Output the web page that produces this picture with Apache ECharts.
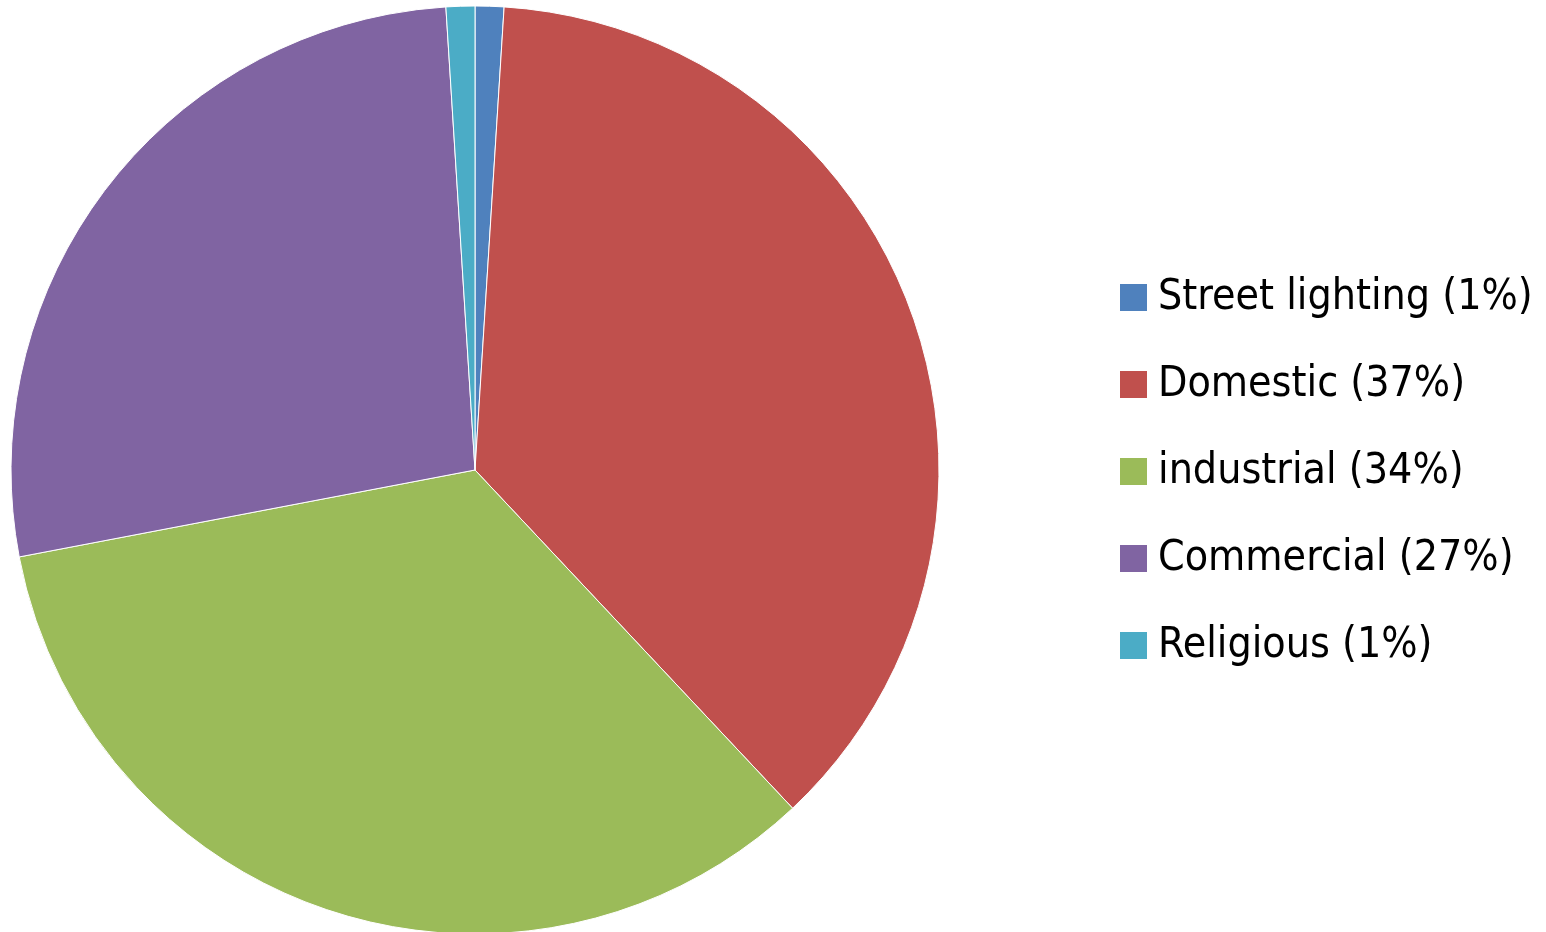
<!DOCTYPE html>
<html>
<head>
<meta charset="utf-8">
<script src="https://cdn.jsdelivr.net/npm/echarts@6/dist/echarts.min.js"></script>
<style>
  html, body { margin: 0; padding: 0; background: #fff; }
  #chart { width: 1546px; height: 932px; }
</style>
</head>
<body>
<div id="chart"></div>
<script>
// categories and shares (%)
var categories = ['Street lighting', 'Domestic', 'industrial', 'Commercial', 'Religious']
var shares = [1, 37, 34, 27, 1]
var colors = ['#4F81BD', '#C0504D', '#9BBB59', '#8064A2', '#4BACC6']

var chart = echarts.init(document.getElementById('chart'))

var pieData = categories.map(function (name, i) {
  return { name: name, value: shares[i], itemStyle: { color: colors[i] } }
})

var option = {
  backgroundColor: '#fff',
  animation: false,
  legend: {
    orient: 'vertical',
    left: 1113,
    top: 271,
    itemWidth: 29,
    itemHeight: 29,
    itemGap: 44,
    icon: 'rect',
    textStyle: {
      fontFamily: "'DejaVu Sans Condensed', Lato",
      fontSize: 42.5,
      color: '#000',
      padding: [0, 0, 0, 5]
    },
    formatter: function (name) {
      var i = categories.indexOf(name)
      return name + ' (' + shares[i] + '%)'
    },
    data: categories
  },
  series: [{
    type: 'pie',
    center: [475, 470],
    radius: [0, 464],
    startAngle: 90,
    clockwise: true,
    label: { show: false },
    labelLine: { show: false },
    itemStyle: { borderColor: '#fff', borderWidth: 1 },
    data: pieData
  }]
}

chart.setOption(option)
</script>
</body>
</html>
